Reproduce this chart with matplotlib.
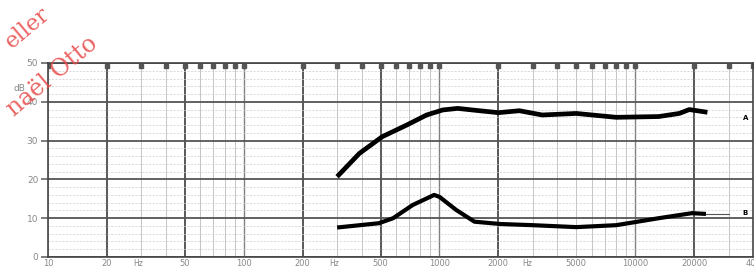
import matplotlib
matplotlib.use("Agg")
import matplotlib.pyplot as plt
import numpy as np

# ---- data ----
freq_A = [300, 390, 510, 680, 860, 1040, 1240, 1600, 2000, 2560, 3350, 5000, 8000, 13200, 16800, 18900, 23400]
dB_A = [20.7, 26.7, 31.0, 34.0, 36.6, 37.9, 38.3, 37.7, 37.2, 37.7, 36.6, 37.0, 36.0, 36.2, 37.0, 38.0, 37.3]
freq_B = [300, 490, 580, 730, 940, 1000, 1220, 1510, 2050, 3000, 5000, 8000, 13200, 19500, 23000]
dB_B = [7.6, 8.7, 10.0, 13.4, 16.0, 15.5, 12.1, 9.1, 8.5, 8.2, 7.7, 8.2, 10.0, 11.3, 11.1]

x_ticks = [10, 20, 50, 100, 200, 500, 1000, 2000, 5000, 10000, 20000, 40000]
x_ticklabels = ["10", "20", "50", "100", "200", "500", "1000", "2000", "5000", "10000", "20000", "400"]
hz_positions = [29, 290, 2800]
y_ticks = [0, 10, 20, 30, 40, 50]
y_ticklabels = ["0", "10", "20", "30", "40", "50"]
major_freqs = [20, 50, 200, 500, 2000, 20000]

fig = plt.figure(figsize=(7.54, 2.69), dpi=100)
ax = fig.add_axes([48/754, 1-257/269, (753-48)/754, (257-63)/269])
ax.set_xscale("log")
ax.set_xlim(10, 40000)
ax.set_ylim(0, 50)

# grid
minor = []
for dec in [10, 100, 1000, 10000]:
    for m in range(1, 10):
        f = dec*m
        if 10 <= f <= 40000:
            minor.append(f)
for f in minor:
    if f in major_freqs:
        ax.axvline(f, color="#4a4a4a", lw=1.3, zorder=1)
    elif f in (100, 1000, 10000):
        ax.axvline(f, color="#808080", lw=1.0, zorder=1)
    else:
        ax.axvline(f, color="#bbbbbb", lw=0.6, zorder=1)
for y in range(0, 51, 2):
    if y % 10 == 0:
        ax.axhline(y, color="#555555", lw=1.3, zorder=1)
    else:
        ax.axhline(y, color="#cccccc", lw=0.5, ls=(0, (3, 2)), zorder=1)

# top markers
ax.plot(minor, [49.2]*len(minor), ls="none", marker="s", ms=2.5, color="#555555", zorder=2)

ax.plot(freq_A, dB_A, color="black", lw=3.4, solid_capstyle="butt", zorder=3)
ax.plot(freq_B, dB_B, color="black", lw=3.0, solid_capstyle="butt", zorder=3)
ax.plot([23000, 30000], [11.1, 11.1], color="#555555", lw=0.8, zorder=2)

ax.text(36600, 35.8, "A", fontsize=5, fontweight="bold", ha="center", va="center")
ax.text(36600, 11.3, "B", fontsize=5, fontweight="bold", ha="center", va="center")

for s in ax.spines.values():
    s.set_color("#444444")
    s.set_linewidth(1.2)

ax.set_xticks(x_ticks)
ax.set_xticklabels(x_ticklabels)
ax.xaxis.set_minor_locator(matplotlib.ticker.NullLocator())
ax.tick_params(axis="x", length=0, pad=1.5, labelsize=6, labelcolor="#888888")
ax.set_yticks(y_ticks)
ax.set_yticklabels(y_ticklabels)
ax.tick_params(axis="y", length=5, width=1.2, color="#666666", pad=2, labelsize=6.5, labelcolor="#888888")
for f in hz_positions:
    ax.annotate("Hz", xy=(f, 0), xytext=(0, -4.5), textcoords="offset points",
                fontsize=5.5, color="#888888", ha="center", va="center", annotation_clip=False)
ax.text(-0.032, 43.5, "dB", transform=ax.get_yaxis_transform(), fontsize=6.5, color="#888888",
        ha="right", va="center")

# watermark
fig.text(28/754, 1-28/269, "eller", color="#e84848", alpha=0.85, fontsize=16, family="DejaVu Serif",
         rotation=40, ha="center", va="center")
fig.text(52/754, 1-76/269, "naël Otto", color="#e84848", alpha=0.85, fontsize=17, family="DejaVu Serif",
         rotation=40, ha="center", va="center")

fig.savefig("out.png", dpi=100)
